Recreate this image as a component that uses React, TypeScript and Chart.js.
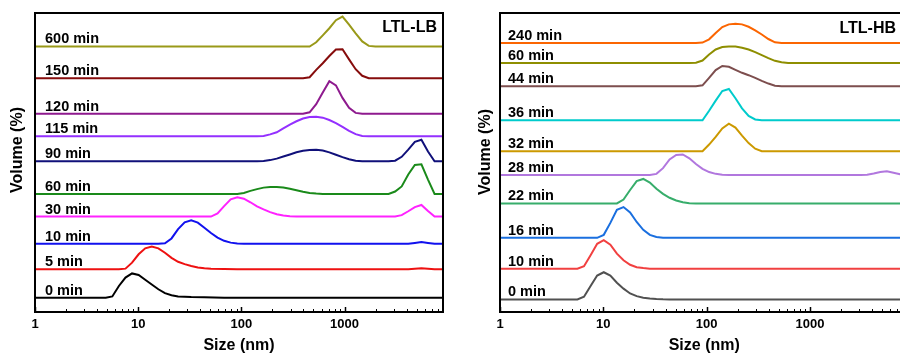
import React, { useEffect, useRef } from "react";
import { Chart, registerables } from "chart.js";

Chart.register(...registerables);
Chart.defaults.font.family = "Arial, 'Liberation Sans', Helvetica, sans-serif";

type Pt = [number, number];

// ---------- axis ----------
const SIZE_MIN = 1;
const SIZE_MAX = 9000;
const tickSizes = [1, 10, 100, 1000];
const Y_MAX = 100;

// ---------- LTL-LB (left panel) ----------
const lbLabels = ["0 min", "5 min", "10 min", "30 min", "60 min", "90 min", "115 min", "120 min", "150 min", "600 min"];
const lbOffsets = [4.8, 14.3, 22.8, 31.9, 39.5, 50.4, 58.8, 66.3, 78.2, 88.8];
const lbColors = ["#000000", "#ee1111", "#1111ee", "#ff22ff", "#1a8a1a", "#10107a", "#9430ff", "#8e1a8e", "#860c0c", "#999919"];

const lb0: Pt[] = [[1, 0], [4.849, 0], [5.615, 0.4], [6.503, 3.9], [7.531, 6.7], [8.721, 8.1], [10.1, 7.6], [11.7, 6.0], [13.54, 4.4], [15.69, 2.8], [18.17, 1.5], [21.04, 0.8], [24.36, 0.4], [28.21, 0.3], [32.67, 0.2], [43.82, 0.1], [68.06, 0], [10000, 0]];
const lb5: Pt[] = [[1, 0], [6.503, 0], [7.531, 0.2], [8.721, 2.2], [10.1, 5.0], [11.7, 7.0], [13.54, 7.6], [15.69, 7.0], [18.17, 5.5], [21.04, 3.8], [24.36, 2.5], [28.21, 1.7], [32.67, 1.1], [37.84, 0.6], [43.82, 0.3], [50.75, 0.15], [91.28, 0], [4145, 0], [4801, 0.15], [5560, 0.3], [6439, 0.15], [7456, 0], [10000, 0]];
const lb10: Pt[] = [[1, 0], [15.69, 0], [18.17, 0.2], [21.04, 1.8], [24.36, 4.9], [28.21, 7.2], [32.67, 7.9], [37.84, 7.1], [43.82, 5.4], [50.75, 3.6], [58.77, 2.1], [68.06, 1.0], [78.82, 0.4], [91.28, 0.1], [105.7, 0], [4145, 0], [4801, 0.3], [5560, 0.6], [6439, 0.3], [7456, 0], [10000, 0]];
const lb30: Pt[] = [[1, 0], [50.75, 0], [58.77, 1.1], [68.06, 3.5], [78.82, 5.8], [91.28, 6.5], [105.7, 6.0], [122.4, 4.8], [141.8, 3.4], [164.2, 2.4], [190.1, 1.5], [220.2, 0.8], [255.0, 0.4], [295.3, 0.15], [342.0, 0.05], [396.1, 0], [3091, 0.05], [3580, 0.5], [4145, 1.8], [4801, 3.2], [5560, 3.9], [6439, 1.9], [7456, 0], [10000, 0]];
const lb60: Pt[] = [[1, 0], [91.28, 0], [105.7, 0.3], [122.4, 1.0], [141.8, 1.6], [164.2, 2.1], [190.1, 2.3], [220.2, 2.3], [255.0, 2.1], [295.3, 1.7], [342.0, 1.2], [396.1, 0.7], [458.7, 0.3], [531.2, 0.1], [615.1, 0], [2669, 0], [3091, 0.8], [3580, 2.5], [4145, 6.5], [4801, 9.7], [5560, 9.9], [6439, 4.8], [7456, 0], [10000, 0]];
const lb90: Pt[] = [[1, 0], [141.8, 0], [164.2, 0.1], [190.1, 0.4], [220.2, 0.9], [255.0, 1.6], [295.3, 2.3], [342.0, 3.0], [396.1, 3.5], [458.7, 3.8], [531.2, 3.9], [615.1, 3.6], [712.4, 3.0], [825.0, 2.2], [955.4, 1.4], [1106, 0.7], [1281, 0.2], [1484, 0], [2669, 0], [3091, 0.2], [3580, 1.5], [4145, 3.9], [4801, 6.5], [5560, 7.2], [6439, 3.3], [7456, 0], [10000, 0]];
const lb115: Pt[] = [[1, 0], [141.8, 0], [164.2, 0.1], [190.1, 0.6], [220.2, 1.3], [255.0, 2.6], [295.3, 3.9], [342.0, 5.0], [396.1, 5.9], [458.7, 6.4], [531.2, 6.5], [615.1, 6.2], [712.4, 5.4], [825.0, 4.4], [955.4, 3.1], [1106, 1.8], [1281, 0.7], [1484, 0.1], [1718, 0], [10000, 0]];
const lb120: Pt[] = [[1, 0], [396.1, 0], [458.7, 0.5], [531.2, 3.2], [615.1, 7.1], [712.4, 10.9], [825.0, 9.5], [955.4, 5.3], [1106, 2.0], [1281, 0.3], [1484, 0], [10000, 0]];
const lb150: Pt[] = [[1, 0], [396.1, 0], [458.7, 0.3], [531.2, 2.8], [615.1, 5.0], [712.4, 7.4], [825.0, 9.6], [955.4, 9.7], [1106, 6.3], [1281, 3.0], [1484, 0.8], [1718, 0], [10000, 0]];
const lb600: Pt[] = [[1, 0], [458.7, 0], [531.2, 1.4], [615.1, 3.7], [712.4, 6.1], [825.0, 8.8], [955.4, 10.0], [1106, 7.3], [1281, 4.4], [1484, 1.7], [1718, 0.2], [1990, 0], [10000, 0]];
const lbSeries = [lb0, lb5, lb10, lb30, lb60, lb90, lb115, lb120, lb150, lb600];

// ---------- LTL-HB (right panel) ----------
const hbLabels = ["0 min", "10 min", "16 min", "22 min", "28 min", "32 min", "36 min", "44 min", "60 min", "240 min"];
const hbOffsets = [4.2, 14.5, 24.8, 36.3, 45.8, 53.8, 64.1, 75.5, 83.3, 90.0];
const hbColors = ["#515151", "#f14040", "#1a6fdf", "#37ad6b", "#b177de", "#cc9900", "#00cbcc", "#7d4e4e", "#8e8e00", "#fb6501"];

const hb0: Pt[] = [[1, 0], [5.615, 0], [6.503, 0.9], [7.531, 4.5], [8.721, 8.0], [10.1, 9.1], [11.7, 8.0], [13.54, 5.6], [15.69, 3.6], [18.17, 2.0], [21.04, 1.1], [24.36, 0.6], [28.21, 0.3], [32.67, 0.15], [37.84, 0.05], [43.82, 0], [10000, 0]];
const hb10: Pt[] = [[1, 0], [5.615, 0], [6.503, 0.8], [7.531, 4.5], [8.721, 8.3], [10.1, 9.5], [11.7, 8.0], [13.54, 5.0], [15.69, 2.8], [18.17, 1.3], [21.04, 0.5], [24.36, 0.2], [28.21, 0], [10000, 0]];
const hb16: Pt[] = [[1, 0], [8.721, 0], [10.1, 1.0], [11.7, 5.0], [13.54, 9.4], [15.69, 10.3], [18.17, 8.5], [21.04, 5.3], [24.36, 2.7], [28.21, 1.0], [32.67, 0.3], [37.84, 0], [10000, 0]];
const hb22: Pt[] = [[1, 0], [13.54, 0], [15.69, 1.3], [18.17, 4.5], [21.04, 7.5], [24.36, 8.2], [28.21, 7.0], [32.67, 4.9], [37.84, 3.2], [43.82, 1.9], [50.75, 1.0], [58.77, 0.4], [68.06, 0.1], [78.82, 0], [10000, 0]];
const hb28: Pt[] = [[1, 0], [28.21, 0], [32.67, 0.4], [37.84, 2.3], [43.82, 5.2], [50.75, 6.7], [58.77, 6.9], [68.06, 5.6], [78.82, 3.7], [91.28, 2.1], [105.7, 1.0], [122.4, 0.4], [141.8, 0.1], [164.2, 0], [3091, 0], [3580, 0.1], [4145, 0.5], [4801, 1.0], [5560, 1.3], [6439, 0.8], [7456, 0.3], [8635, 0.1], [10000, 0]];
const hb32: Pt[] = [[1, 0], [91.28, 0], [105.7, 2.2], [122.4, 4.8], [141.8, 7.6], [164.2, 9.2], [190.1, 7.9], [220.2, 5.2], [255.0, 2.7], [295.3, 0.8], [342.0, 0], [10000, 0]];
const hb36: Pt[] = [[1, 0], [91.28, 0], [105.7, 3.2], [122.4, 6.6], [141.8, 9.8], [164.2, 10.5], [190.1, 7.4], [220.2, 4.0], [255.0, 1.5], [295.3, 0.3], [342.0, 0], [10000, 0]];
const hb44: Pt[] = [[1, 0], [78.82, 0], [91.28, 0.3], [105.7, 2.8], [122.4, 5.4], [141.8, 6.8], [164.2, 6.5], [190.1, 5.5], [220.2, 4.5], [255.0, 3.7], [295.3, 2.8], [342.0, 1.8], [396.1, 0.9], [458.7, 0.2], [531.2, 0], [10000, 0]];
const hb60: Pt[] = [[1, 0], [68.06, 0], [78.82, 0.1], [91.28, 0.8], [105.7, 2.8], [122.4, 4.5], [141.8, 5.3], [164.2, 5.5], [190.1, 5.5], [220.2, 5.1], [255.0, 4.5], [295.3, 3.6], [342.0, 2.6], [396.1, 1.6], [458.7, 0.7], [531.2, 0.2], [615.1, 0], [10000, 0]];
const hb240: Pt[] = [[1, 0], [78.82, 0], [91.28, 0.1], [105.7, 1.2], [122.4, 3.3], [141.8, 5.3], [164.2, 6.2], [190.1, 6.4], [220.2, 6.2], [255.0, 5.4], [295.3, 4.2], [342.0, 2.8], [396.1, 1.3], [458.7, 0.2], [531.2, 0], [10000, 0]];
const hbSeries = [hb0, hb10, hb16, hb22, hb28, hb32, hb36, hb44, hb60, hb240];

const FONT = "Arial, 'Liberation Sans', Helvetica, sans-serif";

type PanelProps = {
  title: string;
  series: Pt[][];
  offsets: number[];
  colors: string[];
  labels: string[];
  canvasLeft: number;
  canvasWidth: number;
  padding: { left: number; right: number; top: number; bottom: number };
  labelDx: number;
  titleDx: number;
  titleY: number;
  yTitleX: number;
  yTitleY: number;
};

function Panel(p: PanelProps) {
  const ref = useRef<HTMLCanvasElement | null>(null);
  useEffect(() => {
    if (!ref.current) return;
    const decor = {
      id: "decor",
      afterDraw(chart: any) {
        const { ctx, chartArea } = chart;
        const xs = chart.scales.x;
        const ys = chart.scales.y;
        const { left, right, top, bottom } = chartArea;
        ctx.save();
        // tick marks (inward)
        ctx.strokeStyle = "#000";
        for (const d of tickSizes.concat([10000])) {
          for (let k = 1; k <= 9; k++) {
            const v = d * k;
            if (v < SIZE_MIN || v > SIZE_MAX) continue;
            const px = Math.round(xs.getPixelForValue(v)) + 0.5;
            ctx.lineWidth = k === 1 ? 1.5 : 1;
            ctx.beginPath();
            ctx.moveTo(px, bottom);
            ctx.lineTo(px, bottom - (k === 1 ? 5 : 3));
            ctx.stroke();
          }
        }
        // frame
        ctx.lineWidth = 2;
        ctx.strokeRect(left, top, right - left, bottom - top);
        // series labels
        ctx.fillStyle = "#000";
        ctx.font = `bold 14.5px ${FONT}`;
        ctx.textAlign = "left";
        ctx.textBaseline = "alphabetic";
        p.labels.forEach((lab, i) => {
          ctx.fillText(lab, left + p.labelDx, ys.getPixelForValue(p.offsets[i]) - 3);
        });
        // panel title
        ctx.font = `bold 16px ${FONT}`;
        ctx.textAlign = "right";
        ctx.fillText(p.title, right - p.titleDx, p.titleY);
        // y title
        ctx.translate(p.yTitleX, p.yTitleY);
        ctx.rotate(-Math.PI / 2);
        ctx.textAlign = "center";
        ctx.textBaseline = "middle";
        ctx.fillText("Volume (%)", 0, 0);
        ctx.restore();
      },
    };
    const chart = new Chart(ref.current, {
      type: "line",
      data: {
        datasets: p.series.map((s, i) => ({
          label: p.labels[i],
          data: s.map(([x, v]) => ({ x, y: v + p.offsets[i] })),
          borderColor: p.colors[i],
          backgroundColor: p.colors[i],
          borderWidth: 2,
          pointRadius: 0,
          tension: 0,
          fill: false,
        })),
      },
      options: {
        responsive: false,
        animation: false,
        devicePixelRatio: 1,
        layout: { padding: p.padding },
        plugins: { legend: { display: false }, tooltip: { enabled: false } },
        scales: {
          x: {
            type: "logarithmic",
            min: SIZE_MIN,
            max: SIZE_MAX,
            grid: { display: false, drawTicks: false },
            border: { display: false },
            afterBuildTicks: (scale: any) => {
              scale.ticks = tickSizes.map((v) => ({ value: v }));
            },
            ticks: {
              autoSkip: false,
              maxRotation: 0,
              padding: 6,
              color: "#000",
              font: { size: 13, weight: "bold", lineHeight: 1 },
              callback: (v: any) => String(v),
            },
            title: {
              display: true,
              text: "Size (nm)",
              color: "#000",
              font: { size: 16, weight: "bold", lineHeight: 1 },
              padding: { top: 1, bottom: 0 },
            },
          },
          y: { display: false, min: 0, max: Y_MAX },
        },
      } as any,
      plugins: [decor],
    });
    return () => chart.destroy();
  }, []);
  return (
    <canvas
      ref={ref}
      width={p.canvasWidth}
      height={353}
      style={{ position: "absolute", left: p.canvasLeft, top: 0, width: p.canvasWidth, height: 353 }}
    />
  );
}

export default function App() {
  return (
    <div style={{ position: "fixed", left: 0, top: 0, width: 900, height: 353, overflow: "hidden", background: "#fff" }}>
      <Panel
        title="LTL-LB"
        series={lbSeries}
        offsets={lbOffsets}
        colors={lbColors}
        labels={lbLabels}
        canvasLeft={0}
        canvasWidth={450}
        padding={{ left: 35, right: 7, top: 13, bottom: -1 }}
        labelDx={10}
        titleDx={6}
        titleY={31.5}
        yTitleX={17.5}
        yTitleY={150}
      />
      <Panel
        title="LTL-HB"
        series={hbSeries}
        offsets={hbOffsets}
        colors={hbColors}
        labels={hbLabels}
        canvasLeft={450}
        canvasWidth={470}
        padding={{ left: 50, right: 11.5, top: 13, bottom: -1 }}
        labelDx={8}
        titleDx={12.5}
        titleY={33}
        yTitleX={35.5}
        yTitleY={152}
      />
    </div>
  );
}
